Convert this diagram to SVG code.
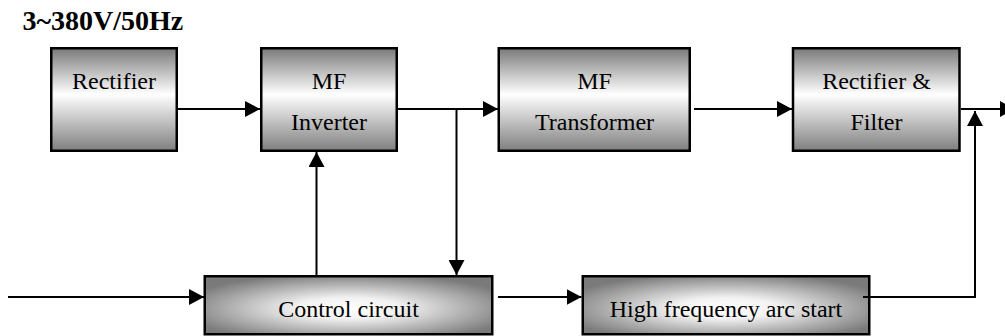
<svg xmlns="http://www.w3.org/2000/svg" width="1005" height="336" viewBox="0 0 1005 336">
  <style>
    .box { stroke: #000; stroke-width: 2.5; }
    .top { fill: url(#gTop); }
    .bot { fill: url(#gBot); }
    .lbl { font-family: "Liberation Serif", "Times New Roman", serif; font-size: 24px; fill: #000; text-anchor: middle; }
    .title { font-family: "Liberation Serif", "Times New Roman", serif; font-size: 28px; font-weight: bold; fill: #000; }
    .wire { fill: none; stroke: #000; stroke-width: 2; }
    .arr { marker-end: url(#ah); }
  </style>
  <defs>
    <linearGradient id="gTop" x1="0" y1="0" x2="0" y2="1">
      <stop offset="0" stop-color="#7a7a7a"/>
      <stop offset="0.45" stop-color="#ffffff"/>
      <stop offset="1" stop-color="#7f7f7f"/>
    </linearGradient>
    <radialGradient id="gBot" cx="0.5" cy="0.55" r="0.6">
      <stop offset="0" stop-color="#ffffff"/>
      <stop offset="0.3" stop-color="#f2f2f2"/>
      <stop offset="1" stop-color="#7a7a7a"/>
    </radialGradient>
    <marker id="ah" markerUnits="userSpaceOnUse" markerWidth="15" markerHeight="16" refX="15" refY="8" orient="auto">
      <path d="M0,0 L15,8 L0,16 Z" fill="#000"/>
    </marker>
  </defs>

  <text class="title" x="22.5" y="29.5">3~380V/50Hz</text>

  <g id="connectors">
    <path class="wire arr" d="M178,109 H260"/>
    <path class="wire arr" d="M401,109 H498"/>
    <path class="wire" d="M398,109 H401"/>
    <path class="wire arr" d="M456.5,109 V275"/>
    <path class="wire arr" d="M694,109 H792"/>
    <path class="wire arr" d="M961,109 H1015"/>
    <path class="wire arr" d="M316.5,275 V152"/>
    <path class="wire arr" d="M8,297 H204"/>
    <path class="wire arr" d="M498,297 H581.5"/>
    <path class="wire arr" d="M863,297 H975 V111"/>
  </g>

  <g id="rectifier">
    <rect class="box top" x="51.25" y="48.25" width="125.5" height="102.5"/>
    <text class="lbl" x="114" y="88.5">Rectifier</text>
  </g>
  <g id="mf-inverter">
    <rect class="box top" x="261.25" y="48.25" width="135.5" height="102.5"/>
    <text class="lbl" x="329" y="89">MF</text>
    <text class="lbl" x="329" y="130">Inverter</text>
  </g>
  <g id="mf-transformer">
    <rect class="box top" x="498.75" y="48.25" width="191" height="102.5"/>
    <text class="lbl" x="594.5" y="89">MF</text>
    <text class="lbl" x="594.5" y="130">Transformer</text>
  </g>
  <g id="rectifier-filter">
    <rect class="box top" x="793" y="48.25" width="166.5" height="102.5"/>
    <text class="lbl" x="876.5" y="89">Rectifier &amp;</text>
    <text class="lbl" x="876.5" y="130">Filter</text>
  </g>
  <g id="control-circuit">
    <rect class="box bot" x="204.75" y="276.25" width="287.5" height="58"/>
    <text class="lbl" x="348.5" y="317">Control circuit</text>
  </g>
  <g id="hf-arc-start">
    <rect class="box bot" x="582.75" y="276.25" width="286.5" height="58"/>
    <text class="lbl" x="726" y="317">High frequency arc start</text>
  </g>
  <path class="wire" d="M863,297 H870"/>
</svg>
